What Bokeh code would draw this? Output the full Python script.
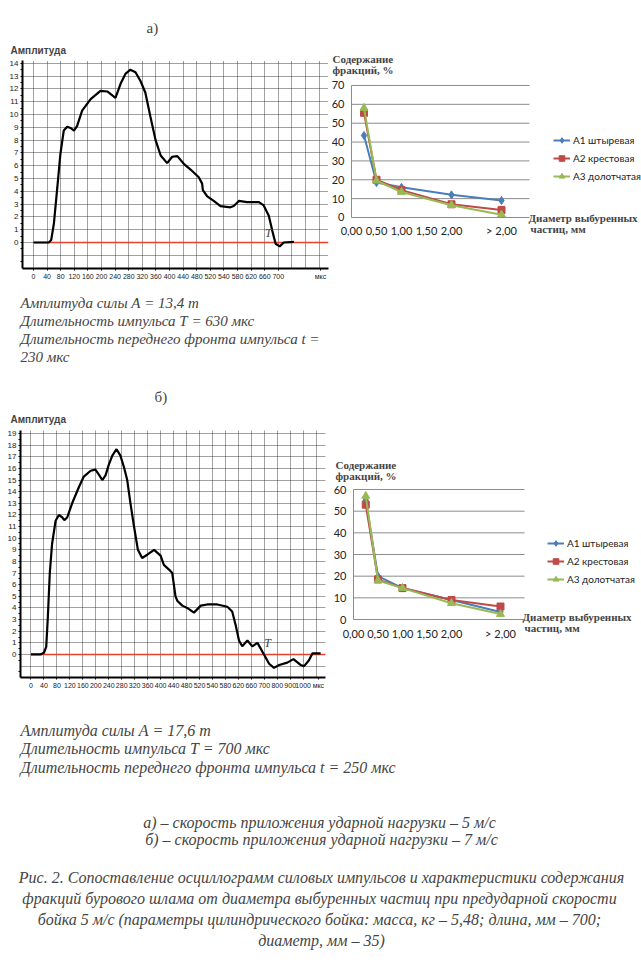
from bokeh.plotting import figure
from bokeh.layouts import column, row
from bokeh.models import Range1d, FixedTicker, Label, Legend, LegendItem, Title
from bokeh.embed import file_html
from bokeh.resources import INLINE

# осциллограмма а) : время (по делениям шкалы), амплитуда
osc_a_t = [0, 45, 52, 60, 70, 79, 89, 99, 109, 119, 128, 143, 168, 197, 217, 241, 256, 271, 285,
           300, 315, 329, 344, 359, 374, 393, 408, 423, 442, 462, 486, 496, 498, 511, 530, 550,
           579, 589, 604, 628, 663, 677, 692, 702, 712, 724, 736, 766]
osc_a_f = [0, 0, 0.2, 1.5, 4.3, 6.9, 8.75, 9.05, 8.95, 8.75, 9.1, 10.3, 11.2, 11.85, 11.8, 11.3,
           12.4, 13.2, 13.5, 13.3, 12.6, 11.7, 9.8, 8.0, 6.8, 6.2, 6.7, 6.75, 6.15, 5.7, 5.1, 4.6,
           4.1, 3.6, 3.25, 2.85, 2.75, 2.85, 3.25, 3.15, 3.15, 2.9, 2.1, 0.95, -0.1, -0.3, 0.0, 0.05]
osc_a_xlabels = ["0", "40", "80", "120", "160", "200", "240", "280", "320", "360", "400", "440",
                 "480", "520", "540", "580", "620", "660", "700"]
osc_a_ylabels = list(range(0, 15))

# осциллограмма б)
osc_b_t = [0, 29, 40, 47, 52, 58, 65, 76, 86, 96, 103, 112, 127, 148, 163, 184, 199, 211, 220,
           230, 240, 251, 264, 276, 287, 297, 307, 318, 330, 343, 360, 380, 400, 410, 426, 436,
           446, 452, 467, 482, 503, 524, 544, 575, 606, 621, 632, 642, 652, 668, 683, 699, 709,
           719, 735, 750, 766, 791, 810, 832, 843, 858, 869, 894]
osc_b_f = [0, 0, 0.15, 0.65, 3.2, 7.0, 9.5, 11.5, 12.0, 11.8, 11.55, 11.8, 13.0, 14.4, 15.3, 15.8,
           15.9, 15.4, 15.0, 15.4, 16.3, 17.1, 17.65, 17.1, 16.1, 15.0, 13.0, 11.0, 9.0, 8.3, 8.6,
           9.0, 8.5, 7.7, 7.3, 7.0, 5.0, 4.6, 4.2, 4.0, 3.6, 4.2, 4.3, 4.3, 4.1, 3.7, 2.5, 1.2, 0.7,
           1.2, 0.7, 1.0, 0.5, 0.0, -0.8, -1.15, -0.9, -0.7, -0.4, -0.9, -1.0, -0.5, 0.1, 0.1]
osc_b_xlabels = ["0", "40", "80", "120", "160", "200", "240", "280", "320", "360", "400", "440",
                 "480", "520", "540", "580", "620", "660", "700", "800", "900", "1000"]
osc_b_ylabels = list(range(0, 20))

# содержание фракций, %
sizes = [0.25, 0.5, 1.0, 2.0, 3.0]
size_ticks = [0, 0.5, 1.0, 1.5, 2.0, 3.0]
size_labels = ["0,00", "0,50", "1,00", "1,50", "2,00", "> 2,00"]
series_names = ["А1 штыревая", "А2 крестовая", "А3 долотчатая"]
frac_a_a1 = [43.5, 18.5, 16.0, 12.0, 9.0]
frac_a_a2 = [55.5, 20.0, 14.5, 7.0, 4.0]
frac_a_a3 = [58.0, 19.5, 13.5, 6.5, 1.5]
frac_b_a1 = [55.0, 20.0, 14.5, 9.0, 3.5]
frac_b_a2 = [53.0, 18.5, 14.5, 9.0, 6.0]
frac_b_a3 = [57.0, 18.0, 14.5, 7.5, 2.5]

colors = ["#4a7ebb", "#be4b48", "#98b954"]
markers = ["diamond", "square", "triangle"]
SERIF = "Liberation Serif"
SANS = "Liberation Sans"
NARROW = "'Liberation Sans Narrow', 'Liberation Sans', sans-serif"


def note(p, fx, fy, text, **kw):
    # fx, fy - pixels from the top-left corner of the figure (inside the frame)
    kw.setdefault("text_baseline", "middle")
    p.add_layout(Label(x=fx - p.min_border_left, y=p.height - p.min_border_bottom - fy,
                       x_units="screen", y_units="screen", text=text, **kw))


def base_figure(width, height, x_range, y_range, borders):
    left, top, right, bottom = borders
    p = figure(width=width, height=height, x_range=x_range, y_range=y_range,
               output_backend="svg", toolbar_location=None,
               min_border_left=left, min_border_top=top, min_border_right=right,
               min_border_bottom=bottom)
    p.frame_align = False
    p.outline_line_color = None
    return p


def osc_figure(t, f, xlabels, ylabels, x_range, y_range, unit_x, height, borders):
    p = base_figure(330, height, Range1d(*x_range), Range1d(*y_range), borders)
    xt = [i * 40 for i in range(len(xlabels))]
    p.xaxis.ticker = FixedTicker(ticks=xt + [unit_x])
    overrides = {x: s for x, s in zip(xt, xlabels)}
    overrides[unit_x] = "мкс"
    p.xaxis.major_label_overrides = overrides
    p.yaxis.ticker = FixedTicker(ticks=ylabels,
                                 minor_ticks=[v + 0.5 for v in range(-2, ylabels[-1] + 1)])
    p.xgrid.ticker = FixedTicker(ticks=list(range(0, int(x_range[1]), 40)))
    p.ygrid.ticker = FixedTicker(ticks=list(range(-1, int(y_range[1]) + 1)))
    p.grid.grid_line_color = "#222222"
    p.grid.grid_line_dash = "1 1"
    p.grid.grid_line_alpha = 0.85
    for ax in (p.xaxis, p.yaxis):
        ax.axis_line_width = 2
        ax.axis_line_color = "black"
        ax.major_tick_in = 0
        ax.major_tick_out = 2
        ax.minor_tick_in = 0
        ax.minor_tick_out = 2
        ax.major_label_text_font = NARROW
        ax.major_label_standoff = 2
        ax.major_label_text_color = "#222222"
    p.xaxis.major_label_text_font_size = "7px"
    p.yaxis.major_label_text_font_size = "8px"
    p.xaxis.minor_tick_out = 0
    p.line([0, x_range[1]], [0, 0], color="#e8402a", line_width=1.5)
    p.line(t, f, color="black", line_width=2.2)
    return p


def osc_titles(p, letter, letter_offset, letter_standoff, title_offset, title_standoff):
    p.add_layout(Title(text="Амплитуда", align="left", offset=title_offset,
                       standoff=title_standoff, text_font=SANS, text_font_style="bold",
                       text_font_size="10px"), "above")
    p.add_layout(Title(text=letter, align="left", offset=letter_offset,
                       standoff=letter_standoff, text_font=SERIF, text_font_style="normal",
                       text_font_size="15px"), "above")


def frac_figure(a1, a2, a3, y_top, x_range, y_range, grid_end, height, borders):
    p = base_figure(311, height, Range1d(*x_range), Range1d(*y_range), borders)
    p.grid.visible = False
    ticks = list(range(10, y_top + 1, 10))
    p.segment(x0=[0] * len(ticks), x1=[grid_end] * len(ticks), y0=ticks, y1=ticks,
              color="#8c8c8c", line_width=1)
    p.yaxis.ticker = FixedTicker(ticks=list(range(0, y_top + 1, 10)))
    p.yaxis.bounds = (0, y_top)
    p.yaxis.fixed_location = 0
    p.xaxis.ticker = FixedTicker(ticks=size_ticks)
    p.xaxis.major_label_overrides = {x: s for x, s in zip(size_ticks, size_labels)}
    p.xaxis.bounds = (0, grid_end)
    p.xaxis.fixed_location = 0
    for ax in (p.xaxis, p.yaxis):
        ax.axis_line_color = "#8c8c8c"
        ax.major_tick_in = 0
        ax.major_tick_out = 0
        ax.minor_tick_line_color = None
        ax.major_label_text_font = "Lato"
        ax.major_label_text_font_size = "11px"
        ax.major_label_text_color = "#222222"
    p.xaxis.major_label_standoff = 7
    p.yaxis.major_label_standoff = 7
    items = []
    for name, vals, c, m in zip(series_names, (a1, a2, a3), colors, markers):
        ln = p.line(sizes, vals, color=c, line_width=2)
        sc = p.scatter(sizes, vals, marker=m, size=8 if m != "square" else 7, color=c)
        items.append(LegendItem(label=name, renderers=[ln, sc]))
    return p, items


def frac_texts(p, items, tx, ty, dx, dy, legend_xy):
    bold = dict(text_font=SERIF, text_font_style="bold", text_font_size="11px")
    note(p, tx, ty, "Содержание", **bold)
    note(p, tx, ty + 11, "фракций, %", **bold)
    note(p, dx, dy, "Диаметр выбуренных", **bold)
    note(p, dx + 2, dy + 11, "частиц, мм", **bold)
    leg = Legend(items=items, location=legend_xy, background_fill_alpha=0, border_line_alpha=0,
                 padding=0, margin=0, spacing=4, glyph_width=17, glyph_height=14,
                 label_height=14, label_standoff=3, label_text_font="Lato",
                 label_text_font_size="10px", label_text_color="#222222")
    p.add_layout(leg)


def text_figure(height):
    p = figure(width=641, height=height, x_axis_location=None, y_axis_location=None,
               output_backend="svg", toolbar_location=None, min_border_left=0,
               min_border_right=0, min_border_top=0, min_border_bottom=0)
    p.frame_align = False
    p.outline_line_color = None
    p.grid.visible = False
    return p


# ---- а) ----
osc_a = osc_figure(osc_a_t, osc_a_f, osc_a_xlabels, osc_a_ylabels, (-32.4, 867.6), (-2.03, 14.22),
                   844, 290, (22, 60, 2, 22))
osc_titles(osc_a, "а)", 124, 5, -12, 9)
osc_a.add_layout(Label(x=691, y=0.75, text="T", text_font=SERIF, text_font_style="italic",
                       text_font_size="12px", text_align="center", text_baseline="middle"))

frac_a, items_a = frac_figure(frac_a_a1, frac_a_a2, frac_a_a3, 70, (-0.4, 5.8), (-12.2, 88.55),
                              3.56, 290, (1, 50, 0, 50))
frac_texts(frac_a, items_a, 2, 58, 198, 217, (222, 57))

text_a = text_figure(95)
ital_a = dict(text_font=SERIF, text_font_style="italic", text_font_size="15px")
note(text_a, 20, 12, "Амплитуда силы А = 13,4 т", **ital_a)
note(text_a, 20, 30, "Длительность импульса Т = 630 мкс", **ital_a)
note(text_a, 20, 48, "Длительность переднего фронта импульса t =", **ital_a)
note(text_a, 20, 66, "230 мкс", **ital_a)

# ---- б) ----
osc_b = osc_figure(osc_b_t, osc_b_f, osc_b_xlabels, osc_b_ylabels, (-32.4, 909), (-1.98, 19.26),
                   887, 315, (20, 45, 5, 23))
osc_titles(osc_b, "б)", 134, 2, -10, 12)
osc_b.add_layout(Label(x=730, y=0.95, text="T", text_font=SERIF, text_font_style="italic",
                       text_font_size="12px", text_align="center", text_baseline="middle"))

frac_b, items_b = frac_figure(frac_b_a1, frac_b_a2, frac_b_a3, 60, (-0.449, 5.878), (-12.0, 75.7),
                              3.49, 315, (1, 70, 0, 55))
frac_texts(frac_b, items_b, 5, 79, 192, 231, (216, 59))

text_b = text_figure(258)
ital_b = dict(text_font=SERIF, text_font_style="italic", text_font_size="16px")
note(text_b, 20, 30, "Амплитуда силы А = 17,6 т", **ital_b)
note(text_b, 20, 48, "Длительность импульса Т = 700 мкс", **ital_b)
note(text_b, 20, 67, "Длительность переднего фронта импульса t = 250 мкс", **ital_b)
cap = dict(text_font=SERIF, text_font_style="italic", text_font_size="16px", text_align="center")
note(text_b, 321, 122, "а) –  скорость приложения ударной нагрузки – 5 м/с", **cap)
note(text_b, 321, 139, "б) – скорость приложения ударной нагрузки – 7 м/с", **cap)
caption = ["Рис. 2. Сопоставление осциллограмм силовых импульсов и характеристики содержания",
           "фракций бурового шлама от диаметра выбуренных частиц  при предударной скорости",
           "бойка 5 м/с (параметры цилиндрического бойка: масса, кг – 5,48; длина, мм  – 700;",
           "диаметр, мм – 35)"]
for i, line in enumerate(caption):
    note(text_b, 321, 177 + 21 * i, line, **cap)

page = column(row(osc_a, frac_a, spacing=0), text_a, row(osc_b, frac_b, spacing=0), text_b,
              spacing=0)

open("out.html", "w").write(file_html(page, INLINE))
